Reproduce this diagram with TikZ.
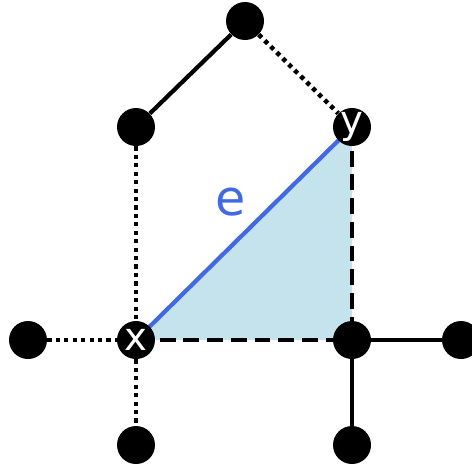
\documentclass[tikz,border=0pt]{standalone}
\usepackage{fontspec}
\setmainfont{DejaVu Sans}
\definecolor{edgeblue}{HTML}{4169E1}
\definecolor{triblue}{HTML}{C5E3EC}
\usetikzlibrary{positioning}

\begin{document}
\begin{tikzpicture}[
    x=0.02cm, y=-0.02cm,
    vtx/.style={circle, fill=black, inner sep=0pt, minimum size=0.76cm,
                text=white, font=\fontsize{22}{22}\selectfont},
    solidline/.style={line width=2.4pt},
    dotline/.style={line width=2.6pt, dash pattern=on 2.4pt off 2.4pt},
    dashline/.style={line width=2.4pt, dash pattern=on 9pt off 4.5pt}
]
    \useasboundingbox (0,0) rectangle (472,464);

    % triangle behind everything
    \fill[triblue] (136,340) -- (352,127) -- (352,340) -- cycle;

    \coordinate (cx) at (136,340);
    \coordinate (cy) at (352,127);
    \coordinate (cr) at (352,340);

    \draw[dashline] (cx) -- (cr);
    \draw[dashline] (cy) -- (cr);
    \draw[line width=2.4pt, edgeblue] (cx) -- (cy);

    \node[vtx] (top) at (245,21) {};
    \node[vtx] (ul) at (136,127) {};
    \node[vtx] (y) at (cy) {y};
    \node[vtx] (x) at (cx) {x};
    \node[vtx] (r) at (cr) {};
    \node[vtx] (fl) at (28,340) {};
    \node[vtx] (fr) at (461,340) {};
    \node[vtx] (bl) at (136,445) {};
    \node[vtx] (br) at (352,445) {};

    \node[text=edgeblue, font=\fontsize{28}{28}\selectfont] (e) at (231,202) {e};

    \draw[solidline] (ul) -- (top);
    \draw[dotline] (top) -- (y);
    \draw[dotline] (ul) -- (x);
    \draw[dotline] (fl) -- (x);
    \draw[dotline] (x) -- (bl);
    \draw[solidline] (r) -- (fr);
    \draw[solidline] (r) -- (br);
\end{tikzpicture}
\end{document}
